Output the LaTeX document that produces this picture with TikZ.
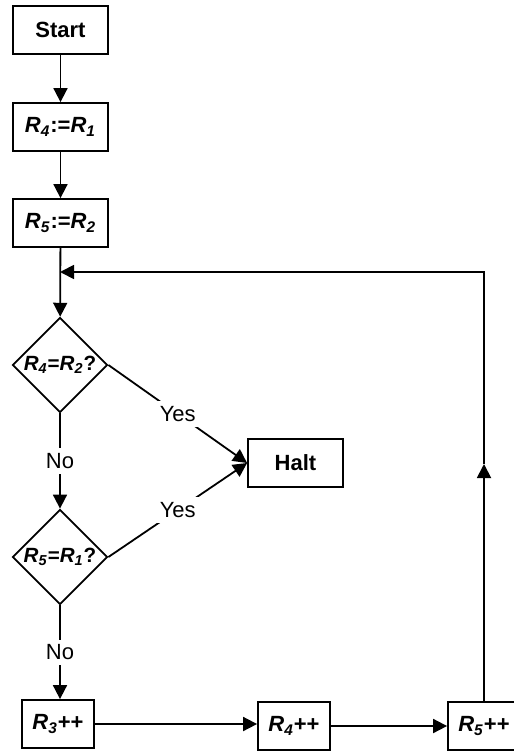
\documentclass[tikz,border=0pt]{standalone}
\usepackage{fontspec}
\setmainfont{Liberation Sans}
\usetikzlibrary{shapes.geometric,arrows.meta}

% bold italic register names with subscripts
\newcommand{\Reg}[1]{\textit{R}\textsubscript{\textit{#1}}}

\begin{document}
\begin{tikzpicture}[x=0.5pt,y=-0.5pt,
  line width=0.9pt,
  font=\fontsize{11}{13}\selectfont,
  box/.style={draw,rectangle,minimum width=47.5pt,minimum height=24pt,
    inner sep=0pt,font=\fontsize{11}{13}\selectfont\bfseries},
  smallbox/.style={box,minimum width=36pt},
  test/.style={draw,diamond,aspect=1,inner sep=0pt,minimum width=47.5pt,
    minimum height=47.5pt,font=\fontsize{10.3}{12}\selectfont\bfseries},
  arr/.style={-{Triangle[length=7pt,width=7pt]}},
  lbl/.style={fill=white,inner sep=2.5pt}]

\useasboundingbox (0,0) rectangle (513,753);

% initialisation
\node[box] (start) at (60.5,30)  {Start};
\node[box] (init4) at (60.5,127) {\Reg{4}:=\Reg{1}};
\node[box] (init5) at (60.5,223) {\Reg{5}:=\Reg{2}};

% the two tests
\node[test] (t1) at (60,365) {\Reg{4}=\Reg{2}?};
\node[test] (t2) at (60,557) {\Reg{5}=\Reg{1}?};
\node[box] (halt) at (295.5,463) {Halt};

% increment row
\node[smallbox] (inc3) at (58,724)  {\Reg{3}++};
\node[smallbox] (inc4) at (294,726) {\Reg{4}++};
\node[smallbox] (inc5) at (484,726) {\Reg{5}++};

% loop back points
\coordinate (join)   at (60,272);
\coordinate (corner) at (484,272);
\coordinate (mid)    at (484,464);

% connectors
\draw[arr] (start) -- (init4);
\draw[arr] (init4) -- (init5);
\draw[arr] (init5) -- (t1);
\draw[arr] (t1.south) -- node[lbl] {No} (t2.north);
\draw[arr] (t2.south) -- node[lbl] {No} (t2.south |- inc3.north);
\draw[arr] (t1.east) -- node[lbl] {Yes} (halt.west);
\draw[arr] (t2.east) -- node[lbl] {Yes} (halt.west);
\draw[arr] (inc3.east) -- (inc3.east -| inc4.west);
\draw[arr] (inc4.east) -- (inc4.east -| inc5.west);
\draw[arr] (inc5.north) -- (mid);
\draw[arr] (mid) -- (corner) -- (join);

\end{tikzpicture}
\end{document}
